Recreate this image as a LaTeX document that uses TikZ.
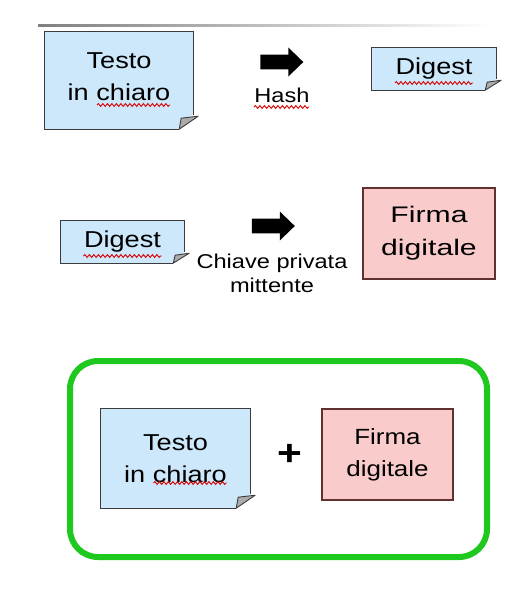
\documentclass[tikz,border=0pt]{standalone}
\usepackage{fontspec}
\setmainfont[FakeStretch=1.18]{Liberation Sans}
\newfontfamily\largo[FakeStretch=1.34]{Liberation Sans}
\usepackage{xcolor}
\usepackage{tikz}
\usetikzlibrary{positioning,calc,shapes.arrows,decorations.pathmorphing}

\definecolor{azzurro}{HTML}{CCE8FA}
\definecolor{rosa}{HTML}{F9CBCB}
\definecolor{verde}{HTML}{1FC81F}
\definecolor{bordo}{HTML}{3C3C3C}

% angolo piegato del foglio
\newcommand{\foglio}[2]{%
  \fill[white] ($(#1.south east)+(0,#2)$) -- (#1.south east) -- ($(#1.south east)+(-#2,0)$) -- cycle;
  \draw[bordo, line width=1.2pt] ($(#1.south east)+(0,#2)$) -- (#1.north east) -- (#1.north west)
    -- (#1.south west) -- ($(#1.south east)+(-#2,0)$);
  \filldraw[draw=bordo, fill=gray!65, line width=0.9pt, line join=round]
    ($(#1.south east)+(-#2,0)$) -- ($(#1.south east)+(-#2+2,#2-3)$) -- ($(#1.south east)+(5,#2-1)$) -- cycle;
}

\begin{document}
\begin{tikzpicture}[x=1pt, y=1pt,
  nota/.style={fill=azzurro, inner sep=0pt, align=center,
               font=\fontsize{23}{32}\selectfont},
  firma/.style={draw=bordo!80!red, fill=rosa, line width=1.2pt, inner sep=0pt,
                align=center, font=\largo\fontsize{22.5}{33}\selectfont},
  freccia/.style={single arrow, fill=black, inner sep=7pt, minimum height=43pt,
                  minimum width=29pt, single arrow head extend=7pt,
                  single arrow tip angle=88},
  etichetta/.style={inner sep=0pt, align=center, font=\fontsize{20}{24}\selectfont},
  ondina/.style={draw=red!85!black, line width=0.9pt, decorate,
                 decoration={snake, amplitude=1.4pt, segment length=4.5pt}},
]
  \useasboundingbox (0,0) rectangle (520,-592);
  \shade[left color=gray, right color=white] (38,-24) rectangle (490,-26.5);

  % prima riga
  \node[nota, minimum width=148pt, minimum height=97pt, text depth=7pt] (t1) at (119,-80.5)
    {Testo\\in chiaro};
  \node[freccia] (a1) at (278,-62) {};
  \node[etichetta, anchor=base] (hash) at (282,-102) {Hash};
  \node[nota, minimum width=124pt, minimum height=42pt] (d1) at (434,-69) {Digest};
  \foglio{t1}{14}
  \foglio{d1}{11}
  \draw[ondina] ($(t1.center)+(-22,-24.5)$) -- ++(73,0);
  \draw[ondina] ($(hash.base)+(-28,-5)$) -- ++(55,0);
  \draw[ondina] ($(d1.center)+(-39,-14)$) -- ++(78,0);

  % seconda riga
  \node[nota, minimum width=123pt, minimum height=42pt] (d2) at (122.5,-242) {Digest};
  \node[freccia] (a2) at (269.5,-226) {};
  \node[etichetta, anchor=base] (chiave) at (272,-292) {Chiave privata\\mittente};
  \node[firma, minimum width=132pt, minimum height=91pt] (f1) at (429,-233.5)
    {Firma\\digitale};
  \foglio{d2}{11}
  \draw[ondina] ($(d2.center)+(-39,-14)$) -- ++(78,0);

  % messaggio firmato
  \node[draw=verde, line width=6pt, rounded corners=28pt, minimum width=417pt,
        minimum height=196pt] (msg) at (278.5,-459) {};
  \node[nota, minimum width=149pt, minimum height=99pt] (t2) at (175.5,-458.5)
    {Testo\\in chiaro};
  \node[font=\bfseries\fontsize{36}{36}\selectfont, inner sep=0pt] (piu) at (290,-455) {+};
  \node[firma, font=\fontsize{22}{32}\selectfont, minimum width=131pt,
        minimum height=91pt] (f2) at (387.5,-454.5) {Firma\\digitale};
  \foglio{t2}{14}
  \draw[ondina] ($(t2.center)+(-22,-24.5)$) -- ++(73,0);
\end{tikzpicture}
\end{document}
